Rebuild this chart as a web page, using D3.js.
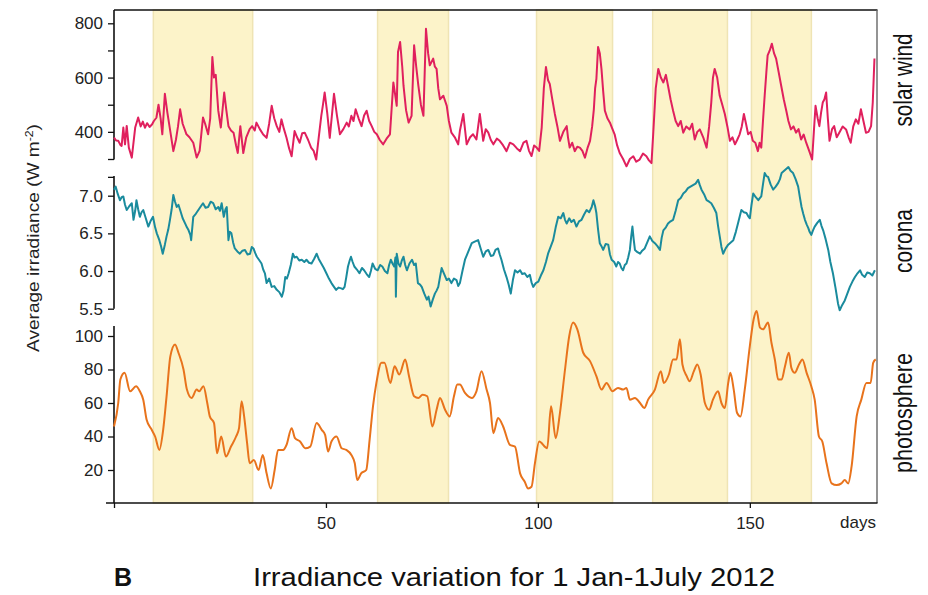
<!DOCTYPE html>
<html>
<head>
<meta charset="utf-8">
<script src="https://cdn.jsdelivr.net/npm/d3@7"></script>
<style>
  body { margin: 0; background: #fff; }
  svg { display: block; font-family: "Liberation Sans", Arial, sans-serif; }
</style>
</head>
<body>
<svg id="chart" width="928" height="595"></svg>
<script>
// day of year 2012 (0 = 1 Jan)
var solarWind = [[0,379],[0.5,368],[1,367],[1.5,352],[1.8,348],[2.2,416],[2.6,354],[3,422],[3.5,342],[4.2,305],[5,416],[5.7,453],[6.3,420],[6.8,438],[7.3,415],[7.8,432],[8.4,418],[9,428],[9.4,440],[10,452],[10.5,500],[11,450],[11.4,391],[12,540],[12.6,470],[13.3,400],[14,329],[14.6,370],[15.1,420],[15.6,483],[16.2,430],[17.1,391],[17.8,380],[18.7,360],[19.5,305],[20.2,330],[21,453],[21.5,430],[22.2,391],[22.7,450],[23.2,676],[23.6,600],[24,610],[24.6,478],[25.2,416],[26,545],[26.5,480],[27,421],[27.6,405],[28.2,397],[28.8,350],[29.2,322],[29.8,421],[30.5,322],[31.2,380],[32,410],[32.6,421],[33.2,405],[33.6,434],[34.4,410],[35.2,390],[36,378],[36.6,430],[37.2,496],[37.8,450],[38.4,421],[39,400],[39.5,446],[40.1,410],[40.7,378],[41.3,340],[41.9,310],[42.6,403],[43.2,380],[43.8,360],[44.4,395],[45,397],[45.8,370],[46.5,342],[47.1,330],[47.7,298],[48.3,380],[48.9,459],[49.3,500],[49.7,545],[50.3,470],[50.9,378],[51.4,460],[51.9,540],[52.6,460],[53.3,391],[54.1,410],[54.9,434],[55.4,420],[56,459],[56.5,440],[57,483],[57.7,450],[58.4,421],[59,460],[59.6,478],[60.2,440],[60.8,421],[61.4,400],[62,391],[62.7,370],[63.5,354],[64.3,375],[65.1,391],[65.9,582],[66.3,540],[66.7,496],[67,694],[67.5,731],[68,640],[68.3,570],[68.9,480],[69.5,434],[70.2,459],[70.8,719],[71.3,640],[71.8,570],[72.4,500],[73,459],[73.6,780],[74.1,690],[74.5,645],[75.3,670],[75.7,640],[76.1,632],[76.5,560],[76.9,520],[77.7,533],[78.5,496],[79,440],[79.6,397],[80.4,380],[81.2,354],[81.6,404],[82.4,466],[83.2,354],[84,380],[84.7,391],[85.5,372],[86.3,466],[87.1,367],[87.7,410],[88.3,397],[88.9,370],[89.5,354],[90.3,375],[91,367],[91.8,350],[92.6,329],[93.4,360],[94.2,354],[95,340],[95.8,329],[96.6,360],[97.3,367],[97.9,330],[98.5,311],[99.1,350],[99.7,342],[100.3,330],[100.9,416],[101.4,560],[101.9,639],[102.4,590],[102.8,577],[103.4,520],[104,466],[104.6,420],[105.2,367],[106,400],[106.8,421],[107.1,380],[107.5,342],[108.1,360],[108.7,329],[109.3,345],[109.9,342],[110.5,330],[111.1,305],[111.7,340],[112.3,367],[112.8,420],[113.2,483],[113.5,560],[113.8,595],[114.2,713],[114.6,690],[115,632],[115.4,550],[115.8,478],[116.4,450],[117,434],[117.6,410],[118.1,391],[118.7,350],[119.3,322],[120.1,300],[120.9,273],[121.7,300],[122.5,310],[123.2,290],[124,298],[124.8,320],[125.6,310],[126.2,295],[126.8,285],[127.2,391],[127.8,560],[128.4,632],[129,600],[129.6,582],[130.2,610],[130.7,570],[131.3,520],[131.9,478],[132.5,440],[133.1,421],[133.7,440],[134.3,397],[135,420],[135.8,409],[136.4,430],[137,372],[137.6,400],[138.2,409],[139,380],[139.8,342],[140.4,420],[140.9,508],[141.3,600],[141.7,632],[142.3,600],[142.9,533],[143.5,500],[144.1,466],[144.7,420],[145.3,367],[145.9,380],[146.5,354],[147,370],[147.6,391],[148.1,420],[148.6,466],[149.1,430],[149.6,391],[150.2,400],[150.7,367],[151.3,360],[151.9,329],[152.3,360],[152.7,342],[153.1,440],[153.5,533],[153.9,620],[154.2,682],[154.7,700],[155.2,725],[155.7,690],[156.2,670],[156.8,620],[157.4,570],[158,520],[158.6,478],[159.1,440],[159.7,409],[160.3,420],[160.9,397],[161.5,410],[162.1,372],[162.7,390],[163.3,360],[164,330],[164.7,298],[165.1,400],[165.5,496],[166,450],[166.4,421],[166.8,470],[167.2,508],[167.6,520],[168,545],[168.4,450],[168.8,367],[169.4,410],[169.9,421],[170.5,380],[171.1,397],[171.9,420],[172.7,409],[173.3,380],[173.8,360],[174.4,420],[175,446],[175.6,430],[176.2,483],[176.8,440],[177.4,397],[178,400],[178.6,421],[179,508],[179.4,670]];

var corona = [[0,7.08],[0.4,7.12],[0.9,7.02],[1.4,6.94],[1.8,6.98],[2.2,6.99],[2.6,6.88],[3,6.81],[3.6,6.86],[4.2,6.90],[4.6,6.68],[5,6.80],[5.3,6.94],[5.7,6.82],[6.1,6.72],[6.5,6.78],[6.9,6.81],[7.5,6.70],[8.1,6.59],[8.6,6.66],[9.2,6.72],[9.7,6.58],[10.1,6.50],[10.7,6.41],[11.1,6.33],[11.5,6.23],[12,6.35],[12.4,6.46],[12.8,6.55],[13.2,6.68],[13.6,6.82],[14,7.01],[14.4,6.92],[14.8,6.85],[15.2,6.88],[15.6,6.81],[16.2,6.70],[16.8,6.63],[17.2,6.58],[17.6,6.54],[18,6.48],[18.2,6.41],[18.7,6.72],[19.3,6.76],[19.9,6.81],[20.5,6.86],[21,6.90],[21.6,6.84],[22.2,6.85],[22.8,6.92],[23.4,6.90],[24,6.82],[24.6,6.85],[25,6.80],[25.4,6.90],[25.9,6.72],[26.3,6.82],[26.6,6.85],[27,6.41],[27.3,6.52],[27.7,6.50],[28.1,6.38],[28.5,6.30],[29.1,6.26],[29.7,6.23],[30.3,6.27],[30.9,6.28],[31.5,6.22],[32.1,6.23],[32.5,6.32],[32.9,6.30],[33.3,6.24],[33.7,6.19],[34.2,6.15],[34.8,6.10],[35.2,6.02],[35.6,5.97],[36,5.84],[36.6,5.90],[37.2,5.79],[37.8,5.80],[38.4,5.75],[39,5.72],[39.6,5.66],[40,5.74],[40.4,5.92],[40.8,5.90],[41.2,5.97],[41.7,6.08],[42.2,6.23],[42.6,6.18],[43.1,6.19],[43.7,6.14],[44.3,6.15],[44.9,6.12],[45.4,6.15],[46,6.11],[46.6,6.10],[47.2,6.16],[47.8,6.23],[48.3,6.16],[48.9,6.10],[49.5,6.04],[50.1,5.97],[50.7,5.90],[51.3,5.84],[51.9,5.79],[52.4,5.75],[53,5.78],[53.6,5.77],[54,5.76],[54.4,5.79],[54.8,5.92],[55.2,6.06],[55.6,6.14],[55.9,6.19],[56.3,6.12],[56.7,6.06],[57.3,6.02],[57.9,5.97],[58.5,6.04],[59,6.01],[59.6,5.96],[60.2,5.92],[60.6,6.00],[61,6.10],[61.6,6.03],[62.2,6.01],[62.8,6.08],[63.3,6.06],[63.9,6.00],[64.5,5.97],[64.9,6.08],[65.3,6.15],[65.7,6.10],[66.1,6.06],[66.4,6.18],[66.5,5.66],[66.7,6.23],[67.1,6.10],[67.5,6.06],[67.9,6.14],[68.3,6.19],[68.7,6.08],[69.1,6.01],[69.7,6.10],[70.3,6.15],[70.8,6.08],[71.2,6.10],[71.7,5.84],[72.2,5.82],[72.6,5.79],[73.2,5.70],[73.8,5.62],[74.2,5.66],[74.7,5.53],[75.2,5.62],[75.7,5.70],[76.1,5.74],[76.5,5.79],[76.9,5.92],[77.3,6.04],[77.9,5.96],[78.5,5.88],[79,5.90],[79.6,5.84],[80.2,5.90],[80.8,5.88],[81.2,5.80],[81.6,5.84],[82.2,6.00],[82.8,6.15],[83.6,6.26],[84.4,6.37],[85.1,6.39],[85.9,6.41],[86.5,6.30],[87.1,6.19],[87.7,6.26],[88.3,6.28],[88.9,6.20],[89.5,6.21],[90,6.28],[90.6,6.30],[91,6.22],[91.4,6.15],[92,6.02],[92.6,5.92],[93.1,5.82],[93.6,5.70],[94.1,5.88],[94.6,6.01],[95.2,5.98],[95.8,6.01],[96.3,5.96],[96.9,5.97],[97.5,5.92],[98.1,5.95],[98.5,5.85],[98.9,5.79],[99.5,5.84],[100.1,5.86],[100.7,5.94],[101.3,6.01],[101.9,6.12],[102.4,6.23],[103,6.32],[103.6,6.41],[104.2,6.58],[104.8,6.72],[105.4,6.70],[106,6.77],[106.4,6.68],[106.8,6.63],[107.4,6.70],[107.9,6.65],[108.5,6.68],[109.1,6.59],[109.7,6.66],[110.3,6.68],[110.9,6.75],[111.5,6.81],[112.1,6.78],[112.7,6.85],[113.1,6.94],[113.5,6.86],[113.8,6.77],[114.2,6.55],[114.6,6.37],[115,6.33],[115.4,6.28],[116,6.36],[116.6,6.35],[117,6.22],[117.4,6.15],[118,6.12],[118.5,6.06],[118.9,6.12],[119.3,6.10],[119.7,6.04],[120.1,6.01],[120.5,6.08],[120.9,6.10],[121.3,6.18],[121.7,6.28],[122,6.45],[122.3,6.59],[122.6,6.42],[122.9,6.28],[123.5,6.25],[124.1,6.23],[124.6,6.27],[125.2,6.30],[125.8,6.38],[126.4,6.46],[127,6.40],[127.6,6.37],[128.2,6.33],[128.8,6.28],[129.2,6.44],[129.6,6.54],[130.2,6.58],[130.7,6.63],[131.3,6.66],[131.9,6.68],[132.5,6.80],[133.1,6.94],[133.7,6.97],[134.3,7.03],[134.9,7.06],[135.4,7.10],[136,7.12],[136.6,7.14],[137.2,7.16],[137.8,7.21],[138.2,7.14],[138.6,7.08],[139.2,7.02],[139.8,6.94],[140.4,6.92],[140.9,6.90],[141.5,6.84],[142.1,6.77],[142.5,6.60],[142.9,6.46],[143.3,6.32],[143.7,6.23],[144.3,6.30],[144.9,6.35],[145.5,6.38],[146.1,6.41],[146.7,6.52],[147.2,6.63],[147.6,6.72],[148,6.81],[148.6,6.78],[149.2,6.77],[149.6,6.73],[150,6.70],[150.4,6.88],[150.8,7.03],[151.4,6.98],[152,6.94],[152.4,6.97],[152.7,6.99],[153.1,7.15],[153.5,7.30],[153.9,7.26],[154.3,7.25],[154.9,7.15],[155.5,7.08],[156.1,7.12],[156.7,7.17],[157.1,7.22],[157.5,7.30],[157.9,7.32],[158.3,7.34],[158.7,7.36],[159.1,7.38],[159.6,7.33],[160.2,7.30],[160.8,7.22],[161.4,7.12],[161.8,6.98],[162.2,6.85],[162.6,6.76],[163,6.68],[163.4,6.62],[163.8,6.57],[164.1,6.52],[164.5,6.48],[164.9,6.54],[165.3,6.59],[165.9,6.64],[166.5,6.68],[166.9,6.60],[167.3,6.54],[167.9,6.42],[168.5,6.28],[169,6.12],[169.6,5.97],[170.2,5.78],[170.8,5.57],[171.2,5.48],[171.8,5.55],[172.4,5.61],[173,5.70],[173.6,5.79],[174.2,5.86],[174.8,5.92],[175.4,5.97],[176,6.01],[176.5,5.95],[177.1,5.92],[177.7,5.98],[178.3,5.97],[178.9,5.94],[179.5,6.01]];

var photosphere = [[0,46],[1,60],[1.5,74],[2.5,78],[3.8,67],[5.2,70],[6.1,67],[6.9,62],[7.7,50],[8.9,44],[9.7,40],[10.7,32],[11.6,44],[12.4,64],[13.3,88],[14.4,95],[15.2,90],[16.4,80],[17.2,68],[18.3,63],[19.5,68],[20.1,67],[21.1,70],[22,60],[22.6,52],[23.6,48],[24.3,30],[25.3,40],[26.4,28],[27.6,34],[28.8,40],[29.5,45],[30.1,61],[30.7,52],[31.4,36],[32,24],[33,26],[34.1,20],[35.1,29],[36,18],[37,9],[37.9,20],[38.7,32],[39.9,32],[40.7,35],[41.9,45],[42.7,39],[43.9,37],[45.1,33],[46.3,34],[47.8,48],[49,44],[49.8,41],[50.5,31],[51.3,37],[52.5,40],[53.7,33],[54.8,32],[56,29],[56.8,24],[57.4,14],[58.3,18],[59.5,20],[60.3,38],[61.1,58],[61.9,72],[63.1,84],[63.8,84],[65.2,72],[66.2,82],[67.3,77],[68.7,86],[69.6,76],[70.8,64],[71.8,63],[72.8,65],[73.9,64],[75.1,46],[76.1,56],[76.9,63],[78.1,56],[79.2,52],[80.2,64],[81,71],[81.6,71],[82.8,66],[84.4,63],[85.5,67],[86.7,79],[87.9,68],[88.7,60],[89.5,42],[90.6,51],[91.8,46],[93.4,35],[94.6,34],[95.8,18],[96.9,13],[97.7,9],[98.5,10],[99.3,24],[100.3,37],[102.2,33],[103.1,58],[104.2,39],[105.2,54],[106.4,80],[107.4,100],[108.3,108],[109.3,104],[110.7,90],[112.3,85],[113.8,76],[115,68],[116.2,72],[117.6,67],[118.9,69],[120.1,68],[120.9,69],[121.7,62],[122.9,63],[124.1,60],[125.1,57],[126,62],[127.6,68],[129,79],[129.7,72],[130.9,77],[131.9,86],[132.7,86],[133.5,98],[134.1,83],[135.1,76],[135.8,73],[136.8,79],[137.6,83],[138.4,77],[139.4,60],[140.4,56],[141.3,62],[142.5,67],[143.3,60],[144.1,57],[144.9,72],[145.4,78],[146.2,68],[147,54],[147.8,52],[148.8,68],[150,94],[150.9,110],[151.6,115],[152.4,105],[153.1,104],[154.3,108],[155.1,96],[155.9,86],[156.7,74],[157.5,74],[158.3,82],[159.2,90],[159.8,81],[160.6,78],[161.6,83],[162.4,86],[163.4,78],[164.5,70],[165.3,62],[166.3,40],[167.1,37],[168.1,24],[169.3,12],[170.5,11],[171.6,12],[172.4,14],[173.2,12],[174,22],[175.2,52],[176.3,62],[177.5,72],[178.5,72],[179.1,84],[179.7,86]];

// highlighted intervals (days)
var bandStart = [9.4, 62.3, 99.8, 127.2, 150.5];
var bandEnd = [32.6, 78.8, 117.5, 144.6, 164.4];

var dayTicks = [0, 50, 100, 150];
var windTicks = [300, 400, 500, 600, 700, 800];
var windLabels = [400, 600, 800];
var coronaTicks = [5.5, 6.0, 6.5, 7.0, 7.25];
var coronaLabels = [5.5, 6.0, 6.5, 7.0];
var photoTicks = [20, 40, 60, 80, 100];

var svg = d3.select("#chart");
var top0 = 10, bottom0 = 503, left0 = 114, right0 = 877;

var x = d3.scaleLinear().domain([0, 180]).range([left0, right0]);

// shaded bands
var bands = svg.append("g").selectAll("rect")
  .data(d3.zip(bandStart, bandEnd))
  .enter();
bands.append("rect")
  .attr("x", d => x(d[0]))
  .attr("y", top0)
  .attr("width", d => x(d[1]) - x(d[0]))
  .attr("height", bottom0 - top0)
  .attr("fill", "#fcf3c9");
bands.append("rect")
  .attr("x", d => x(d[0]) - 0.5)
  .attr("y", top0)
  .attr("width", d => x(d[1]) - x(d[0]) + 1)
  .attr("height", bottom0 - top0)
  .attr("fill", "none")
  .attr("stroke", "#efe4b4")
  .attr("stroke-width", 1.5);

var panels = [
  { name: "solar wind", data: solarWind, color: "#e0205d",
    y: d3.scaleLinear().domain([300, 800]).range([159, 23.3]),
    axisFrom: top0, axisTo: 159.5, ticks: windTicks, labels: windLabels,
    fmt: d3.format("d"), curve: d3.curveLinear, labelY: 80, labelLen: 93 },
  { name: "corona", data: corona, color: "#1a8b9d",
    y: d3.scaleLinear().domain([5.5, 7.0]).range([308.7, 195.7]),
    axisFrom: 176, axisTo: 308.7, ticks: coronaTicks, labels: coronaLabels,
    fmt: d3.format(".1f"), curve: d3.curveLinear, labelY: 241, labelLen: 64 },
  { name: "photosphere", data: photosphere, color: "#e8731c",
    y: d3.scaleLinear().domain([0, 100]).range([503.5, 336]),
    axisFrom: 326, axisTo: 503, ticks: photoTicks, labels: photoTicks,
    fmt: d3.format("d"), curve: d3.curveMonotoneX, labelY: 413, labelLen: 120 }
];

// frame: top and right
svg.append("line").attr("x1", left0).attr("x2", right0 + 0.5)
  .attr("y1", top0).attr("y2", top0)
  .attr("stroke", "#111").attr("stroke-width", 1.6);
svg.append("line").attr("x1", right0).attr("x2", right0)
  .attr("y1", top0).attr("y2", bottom0)
  .attr("stroke", "#666").attr("stroke-width", 1.4);

panels.forEach(function (p) {
  var labels = p.labels;
  var ax = svg.append("g")
    .attr("transform", "translate(" + left0 + ",0)")
    .call(d3.axisLeft(p.y).tickValues(p.ticks).tickSize(6).tickPadding(5)
      .tickFormat(d => labels.indexOf(d) >= 0 ? p.fmt(d) : ""));
  ax.select(".domain").remove();
  ax.selectAll(".tick line").attr("stroke", "#111").attr("stroke-width", 1.3);
  ax.selectAll(".tick text").attr("fill", "#222")
    .style("font-size", "17px").style("font-family", "Liberation Sans, Arial, sans-serif");

  svg.append("line")
    .attr("x1", left0).attr("x2", left0)
    .attr("y1", p.axisFrom).attr("y2", p.axisTo)
    .attr("stroke", "#111").attr("stroke-width", 1.6);

  var line = d3.line()
    .x(d => x(d[0]))
    .y(d => p.y(d[1]))
    .curve(p.curve);

  svg.append("path")
    .datum(p.data)
    .attr("d", line)
    .attr("fill", "none")
    .attr("stroke", p.color)
    .attr("stroke-width", 2)
    .attr("stroke-linejoin", "round");

  svg.append("text")
    .attr("transform", "translate(912," + p.labelY + ") rotate(-90)")
    .attr("text-anchor", "middle")
    .attr("textLength", p.labelLen)
    .attr("lengthAdjust", "spacingAndGlyphs")
    .style("font-size", "25px")
    .attr("fill", "#111")
    .text(p.name);
});

// x axis
var xa = svg.append("g")
  .attr("transform", "translate(0," + bottom0 + ")")
  .call(d3.axisBottom(x).tickValues(dayTicks).tickSize(5).tickPadding(9)
    .tickFormat(d => d === 0 ? "" : d));
xa.select(".domain").remove();
xa.selectAll(".tick line").attr("stroke", "#111").attr("stroke-width", 1.3);
xa.selectAll(".tick text").attr("fill", "#222")
  .style("font-size", "17px").style("font-family", "Liberation Sans, Arial, sans-serif");
svg.append("line").attr("x1", 106).attr("x2", right0 + 0.5)
  .attr("y1", bottom0).attr("y2", bottom0)
  .attr("stroke", "#111").attr("stroke-width", 1.6);

svg.append("text")
  .attr("x", 840).attr("y", 528)
  .style("font-size", "17px").attr("fill", "#222")
  .text("days");

// y axis title
var yt = svg.append("text")
  .attr("transform", "translate(39,238) rotate(-90)")
  .attr("text-anchor", "middle")
  .attr("textLength", 228)
  .attr("lengthAdjust", "spacingAndGlyphs")
  .style("font-size", "17px")
  .attr("fill", "#222");
yt.append("tspan").text("Average irradiance (W m");
yt.append("tspan").attr("baseline-shift", "super").style("font-size", "11px").text("-2");
yt.append("tspan").text(")");

// caption
svg.append("text")
  .attr("x", 114).attr("y", 586)
  .style("font-size", "25px").style("font-weight", "bold")
  .attr("fill", "#111")
  .text("B");
svg.append("text")
  .attr("x", 253).attr("y", 586)
  .attr("textLength", 522)
  .attr("lengthAdjust", "spacingAndGlyphs")
  .style("font-size", "26px")
  .attr("fill", "#111")
  .text("Irradiance variation for 1 Jan-1July 2012");
</script>
</body>
</html>
